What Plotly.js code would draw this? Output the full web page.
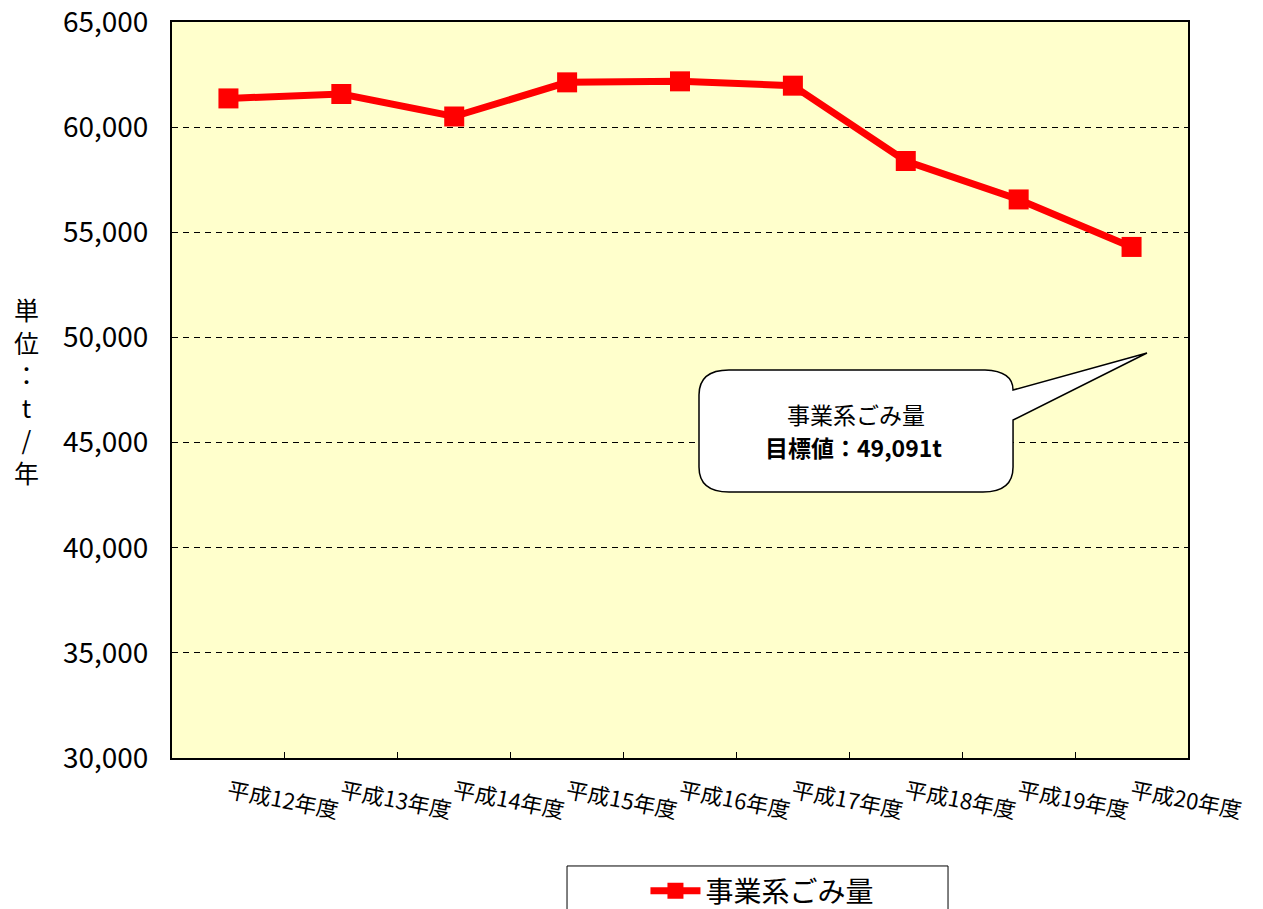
<!DOCTYPE html>
<html>
<head>
<meta charset="utf-8">
<script src="https://cdn.plot.ly/plotly-3.0.1.min.js"></script>
<style>html,body{margin:0;padding:0;background:#fff;overflow:hidden;width:1263px;height:909px;}#chart{width:1263px;height:960px;}</style>
</head>
<body>
<div id="chart"></div>
<script>
const categories = ["平成12年度","平成13年度","平成14年度","平成15年度","平成16年度","平成17年度","平成18年度","平成19年度","平成20年度"];
const wasteValues = [61366, 61576, 60506, 62130, 62178, 61972, 58391, 56562, 54303];
const seriesName = "事業系ごみ量";
const calloutTitle = "事業系ごみ量";
const calloutTarget = "<b>目標値：49,091t</b>";
const yTitleChars = ["単","位","：","t","/","年"];

// drawing area is taller than the window; the window crops the bottom like the reference
const W = 1263, H = 960;
const L = 172, R = 75, T = 22, B = H - 758;
const pw = W - L - R, ph = H - T - B;
function px(x){ return ((x - L) / pw).toFixed(4); }
function py(y){ return ((H - B - y) / ph).toFixed(4); }

const jp = "Noto Sans CJK JP";

const bubble = [
  "M", px(729), py(370), "L", px(985), py(370),
  "Q", px(1013), py(371), px(1013), py(390),
  "L", px(1147), py(353), "L", px(1013), py(420),
  "L", px(1013), py(467),
  "Q", px(1013), py(492), px(983), py(492),
  "L", px(729), py(492),
  "Q", px(699), py(492), px(699), py(467),
  "L", px(699), py(395),
  "Q", px(699), py(370), px(729), py(370), "Z"
].join(" ");

const trace = {
  type: "scatter", mode: "lines+markers",
  x: categories, y: wasteValues, name: seriesName,
  line: {color: "#FF0000", width: 7},
  marker: {symbol: "square", size: 20, color: "#FF0000"},
  showlegend: true
};

const layout = {
  width: W, height: H,
  margin: {l: L, r: R, t: T, b: B},
  paper_bgcolor: "#FFFFFF",
  plot_bgcolor: "#FFFFCC",
  font: {family: jp, color: "#000"},
  xaxis: {
    type: "category",
    range: [-0.5, 8.5], automargin: false,
    showline: true, linecolor: "#000", linewidth: 2, mirror: true,
    showgrid: false,
    ticks: "inside", tickson: "boundaries", ticklen: 6, tickcolor: "#000", tickwidth: 1,
    tickangle: 11,
    tickfont: {family: jp, size: 22, color: "#000"},
    ticklabelstandoff: 11,
    ticklabeloverflow: "allow"
  },
  yaxis: {
    range: [30000, 65000], dtick: 5000, tickformat: ",d", automargin: false,
    showline: true, linecolor: "#000", linewidth: 2, mirror: true,
    showgrid: true, gridcolor: "#000", gridwidth: 1, griddash: "6px,5px",
    zeroline: false,
    ticks: "", ticklabelstandoff: 16,
    ticklabeloverflow: "allow",
    tickfont: {family: jp, size: 28, color: "#000"}
  },
  showlegend: true,
  legend: {
    x: 0.466, y: py(866), xanchor: "left", yanchor: "top",
    orientation: "h", itemwidth: 50,
    bgcolor: "rgba(0,0,0,0)", borderwidth: 0,
    font: {family: jp, size: 28, color: "#000"}
  },
  shapes: [
    {type: "path", xref: "paper", yref: "paper", path: bubble,
     fillcolor: "#FFFFFF", line: {color: "#000", width: 1.5}, layer: "above"},
    {type: "rect", xref: "paper", yref: "paper",
     x0: px(567), x1: px(948), y0: py(866), y1: py(940),
     fillcolor: "rgba(0,0,0,0)", line: {color: "#000", width: 1}}
  ],
  annotations: [
    {xref: "paper", yref: "paper", x: px(856), y: py(414), xanchor: "center", yanchor: "middle",
     text: calloutTitle, showarrow: false,
     font: {family: jp, size: 23, color: "#000"}},
    {xref: "paper", yref: "paper", x: px(853), y: py(447), xanchor: "center", yanchor: "middle",
     text: calloutTarget, showarrow: false,
     font: {family: jp, size: 23, color: "#000"}},
    {xref: "paper", yref: "paper", x: px(26), y: py(390), xanchor: "center", yanchor: "middle",
     text: yTitleChars.join("<br>"), showarrow: false, align: "center",
     font: {family: jp, size: 25, color: "#000"}}
  ]
};

Plotly.newPlot("chart", [trace], layout, {displayModeBar: false, staticPlot: true});
</script>
</body>
</html>
